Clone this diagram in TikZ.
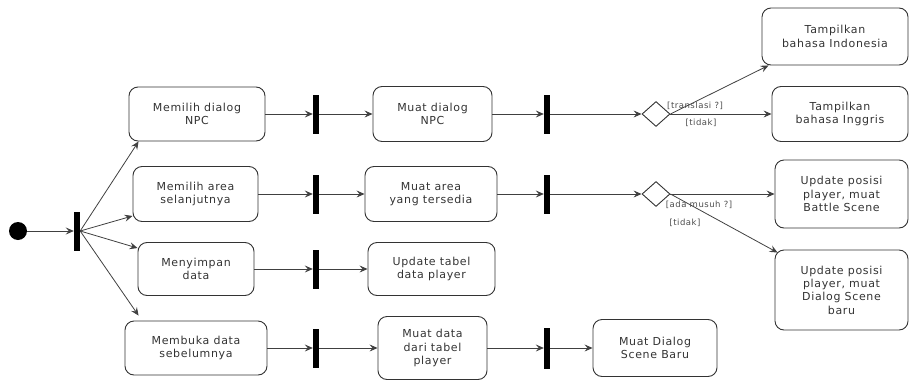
\documentclass[tikz,border=0pt]{standalone}
\usepackage{fontspec}
\newfontfamily\umlfont[LetterSpace=6]{DejaVu Sans}
\usetikzlibrary{shapes.geometric,arrows.meta}

\begin{document}
\begin{tikzpicture}[x=1pt,y=-1pt,
  act/.style={draw=black!80,line width=0.9pt,rounded corners=9pt,align=center,inner sep=0pt,
    font=\umlfont\fontsize{11}{13.3}\selectfont,text=black!80},
  bar/.style={fill=black,inner sep=0pt,minimum width=6pt,minimum height=39pt},
  choice/.style={draw=black!80,line width=0.9pt,diamond,inner sep=0pt,minimum width=28pt,minimum height=25pt},
  flow/.style={draw=black!75,line width=0.8pt,-{Stealth[length=8pt,width=7pt,inset=3pt]}},
  guard/.style={font=\umlfont\fontsize{8.5}{10}\selectfont,text=black!70,inner sep=0pt}]
  \useasboundingbox (0,0) rectangle (910,383);
  \node[circle,fill=black,minimum size=18pt,inner sep=0pt] (start) at (18,231) {};
  \node[bar] (f0) at (77,231) {};
  \node[act,minimum width=136pt,minimum height=54pt] (m1) at (197,114) {Memilih dialog\\NPC};
  \node[act,minimum width=125pt,minimum height=55pt] (m2) at (195.5,194) {Memilih area\\selanjutnya};
  \node[act,minimum width=116pt,minimum height=53pt] (m3) at (196,269) {Menyimpan\\data};
  \node[act,minimum width=142pt,minimum height=54pt] (m4) at (196,348) {Membuka data\\sebelumnya};
  \node[bar] (b1) at (316,114) {};
  \node[bar] (b2) at (316,194) {};
  \node[bar] (b3) at (316,269) {};
  \node[bar] (b4) at (316,348) {};
  \node[act,minimum width=119pt,minimum height=55pt] (n1) at (432.5,114) {Muat dialog\\NPC};
  \node[act,minimum width=132pt,minimum height=55pt] (n2) at (431,194) {Muat area\\yang tersedia};
  \node[act,minimum width=127pt,minimum height=53pt] (n3) at (431.5,269) {Update tabel\\data player};
  \node[act,minimum width=109pt,minimum height=63pt] (n4) at (432.5,348) {Muat data\\dari tabel\\player};
  \node[bar] (c1) at (547,114) {};
  \node[bar] (c2) at (547,194) {};
  \node[bar,minimum height=41pt] (c4) at (547,348) {};
  \node[choice] (g1) at (656,114) {};
  \node[choice] (g2) at (656,194) {};
  \node[act,minimum width=124pt,minimum height=57pt] (d1) at (655,348) {Muat Dialog\\Scene Baru};
  \node[act,minimum width=146pt,minimum height=57pt] (t1) at (835,36.5) {Tampilkan\\bahasa Indonesia};
  \node[act,minimum width=136pt,minimum height=55pt] (t2) at (840,114) {Tampilkan\\bahasa Inggris};
  \node[act,minimum width=133pt,minimum height=68pt] (u1) at (841.5,194) {Update posisi\\player, muat\\Battle Scene};
  \node[act,minimum width=133pt,minimum height=80pt] (u2) at (841.5,290) {Update posisi\\player, muat\\Dialog Scene\\baru};

  \draw[flow] (start) -- (f0);
  \draw[flow] (f0.east) -- ([xshift=10pt]m1.south west);
  \draw[flow] (f0.east) -- ([yshift=6pt]m2.south west);
  \draw[flow] (f0.east) -- ([yshift=-6pt]m3.north west);
  \draw[flow] (f0.east) -- ([xshift=14pt,yshift=5pt]m4.north west);
  \draw[flow] (m1) -- (b1);
  \draw[flow] (b1) -- (n1);
  \draw[flow] (n1) -- (c1);
  \draw[flow] (c1) -- (g1);
  \draw[flow] (g1.east) -- ([xshift=7pt]t1.south west);
  \draw[flow] (g1) -- (t2);
  \draw[flow] (m2) -- (b2);
  \draw[flow] (b2) -- (n2);
  \draw[flow] (n2) -- (c2);
  \draw[flow] (c2) -- (g2);
  \draw[flow] (g2) -- (u1);
  \draw[flow] (g2.east) -- ([xshift=3pt,yshift=-3pt]u2.north west);
  \draw[flow] (m3) -- (b3);
  \draw[flow] (b3) -- (n3);
  \draw[flow] (m4) -- (b4);
  \draw[flow] (b4) -- (n4);
  \draw[flow] (n4) -- (c4);
  \draw[flow] (c4) -- (d1);

  \node[guard,anchor=west] (l1) at (667,106) {[translasi ?]};
  \node[guard] (l2) at (701,123) {[tidak]};
  \node[guard] (l3) at (699,205) {[ada musuh ?]};
  \node[guard] (l4) at (685,223) {[tidak]};
\end{tikzpicture}
\end{document}
